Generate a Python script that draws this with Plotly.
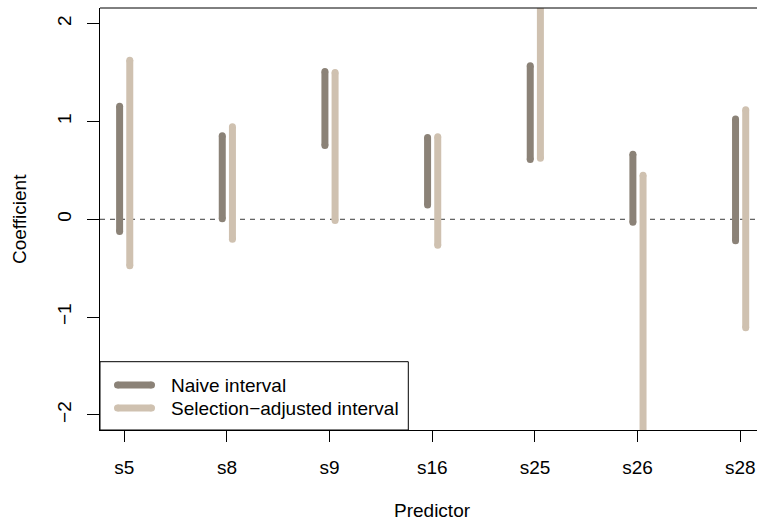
import plotly.graph_objects as go

predictors = ["s5", "s8", "s9", "s16", "s25", "s26", "s28"]
naive_lo = [-0.125, 0.005, 0.755, 0.145, 0.61, -0.03, -0.22]
naive_hi = [1.155, 0.855, 1.51, 0.835, 1.57, 0.665, 1.025]
adj_lo = [-0.475, -0.205, -0.013, -0.265, 0.625, -3.0, -1.11]
adj_hi = [1.625, 0.945, 1.50, 0.845, 2.6, 0.45, 1.12]
y_ticks = [-2, -1, 0, 1, 2]

NAIVE_COL = "#8b8277"
ADJ_COL = "#cfc1b0"
FONT = "Liberation Sans, Arial, sans-serif"
W, H = 757, 524
L, T, B, R = 100, 8, 94, 0
PW, PH = W - L - R, H - T - B


def seg(positions, lo, hi):
    xs, ys = [], []
    for x, a, b in zip(positions, lo, hi):
        xs += [x, x, None]
        ys += [a, b, None]
    return xs, ys


idx = list(range(1, len(predictors) + 1))
nx, ny = seg([i - 0.046 for i in idx], naive_lo, naive_hi)
ax_, ay = seg([i + 0.053 for i in idx], adj_lo, adj_hi)

fig = go.Figure()
fig.add_trace(go.Scatter(x=nx, y=ny, mode="lines+markers",
                         line=dict(color=NAIVE_COL, width=7),
                         marker=dict(color=NAIVE_COL, size=7, line=dict(width=0)),
                         showlegend=False, hoverinfo="skip"))
fig.add_trace(go.Scatter(x=ax_, y=ay, mode="lines+markers",
                         line=dict(color=ADJ_COL, width=7),
                         marker=dict(color=ADJ_COL, size=7, line=dict(width=0)),
                         showlegend=False, hoverinfo="skip"))

# legend samples on a pixel-based overlay axis
legend_items = [("Naive interval", NAIVE_COL, 45),
                ("Selection\u2212adjusted interval", ADJ_COL, 22)]
for label, col, yy in legend_items:
    fig.add_trace(go.Scatter(x=[17.5, 51.5], y=[yy, yy], mode="lines+markers",
                             xaxis="x2", yaxis="y2",
                             line=dict(color=col, width=7),
                             marker=dict(color=col, size=7, line=dict(width=0)),
                             showlegend=False, hoverinfo="skip"))
    fig.add_annotation(x=69.3, y=yy, xref="x2", yref="y2", text=label,
                       showarrow=False, xanchor="left", yanchor="middle",
                       font=dict(family=FONT, size=19, color="black"))

shapes = [
    dict(type="rect", xref="x2", yref="y2", x0=0, x1=308.3, y0=0, y1=68.3,
         line=dict(color="black", width=1), fillcolor="white", layer="below"),
    dict(type="line", xref="paper", yref="y", x0=0, x1=1, y0=0, y1=0,
         line=dict(color="#3a3a3a", width=1, dash="5px,5px"), layer="below"),
    dict(type="line", xref="paper", yref="paper", x0=0, x1=1, y0=1, y1=1,
         line=dict(color="black", width=1)),
]

fig.update_layout(
    width=W, height=H,
    margin=dict(l=L, r=R, t=T, b=B),
    paper_bgcolor="white", plot_bgcolor="white",
    font=dict(family=FONT, size=19, color="black"),
    showlegend=False,
    shapes=shapes,
    xaxis=dict(range=[0.763, 7.163], tickvals=idx, ticktext=predictors,
               showgrid=False, zeroline=False, showline=True, linecolor="black",
               linewidth=1, ticks="outside", ticklen=11, tickcolor="black",
               tickwidth=1, ticklabelstandoff=9,
               tickfont=dict(family=FONT, size=19, color="black")),
    yaxis=dict(range=[-2.154, 2.16], tickvals=y_ticks,
               showgrid=False, zeroline=False, showline=True, linecolor="black",
               linewidth=1, ticks="outside", ticklen=12, tickcolor="black",
               tickwidth=1, tickangle=-90, ticklabelstandoff=8,
               tickfont=dict(family=FONT, size=19, color="black")),
    xaxis2=dict(overlaying="x", range=[0, PW], visible=False, fixedrange=True),
    yaxis2=dict(overlaying="y", range=[0, PH], visible=False, fixedrange=True),
)

fig.add_annotation(x=(19 - L) / PW, y=0.5, xref="paper", yref="paper",
                   text="Coefficient", textangle=-90, showarrow=False,
                   xanchor="center", yanchor="middle",
                   font=dict(family=FONT, size=19, color="black"))
fig.add_annotation(x=(432 - L) / PW, y=-(510 - (H - B)) / PH, xref="paper", yref="paper",
                   text="Predictor", showarrow=False,
                   xanchor="center", yanchor="middle",
                   font=dict(family=FONT, size=19, color="black"))

fig.write_html("out.html")
